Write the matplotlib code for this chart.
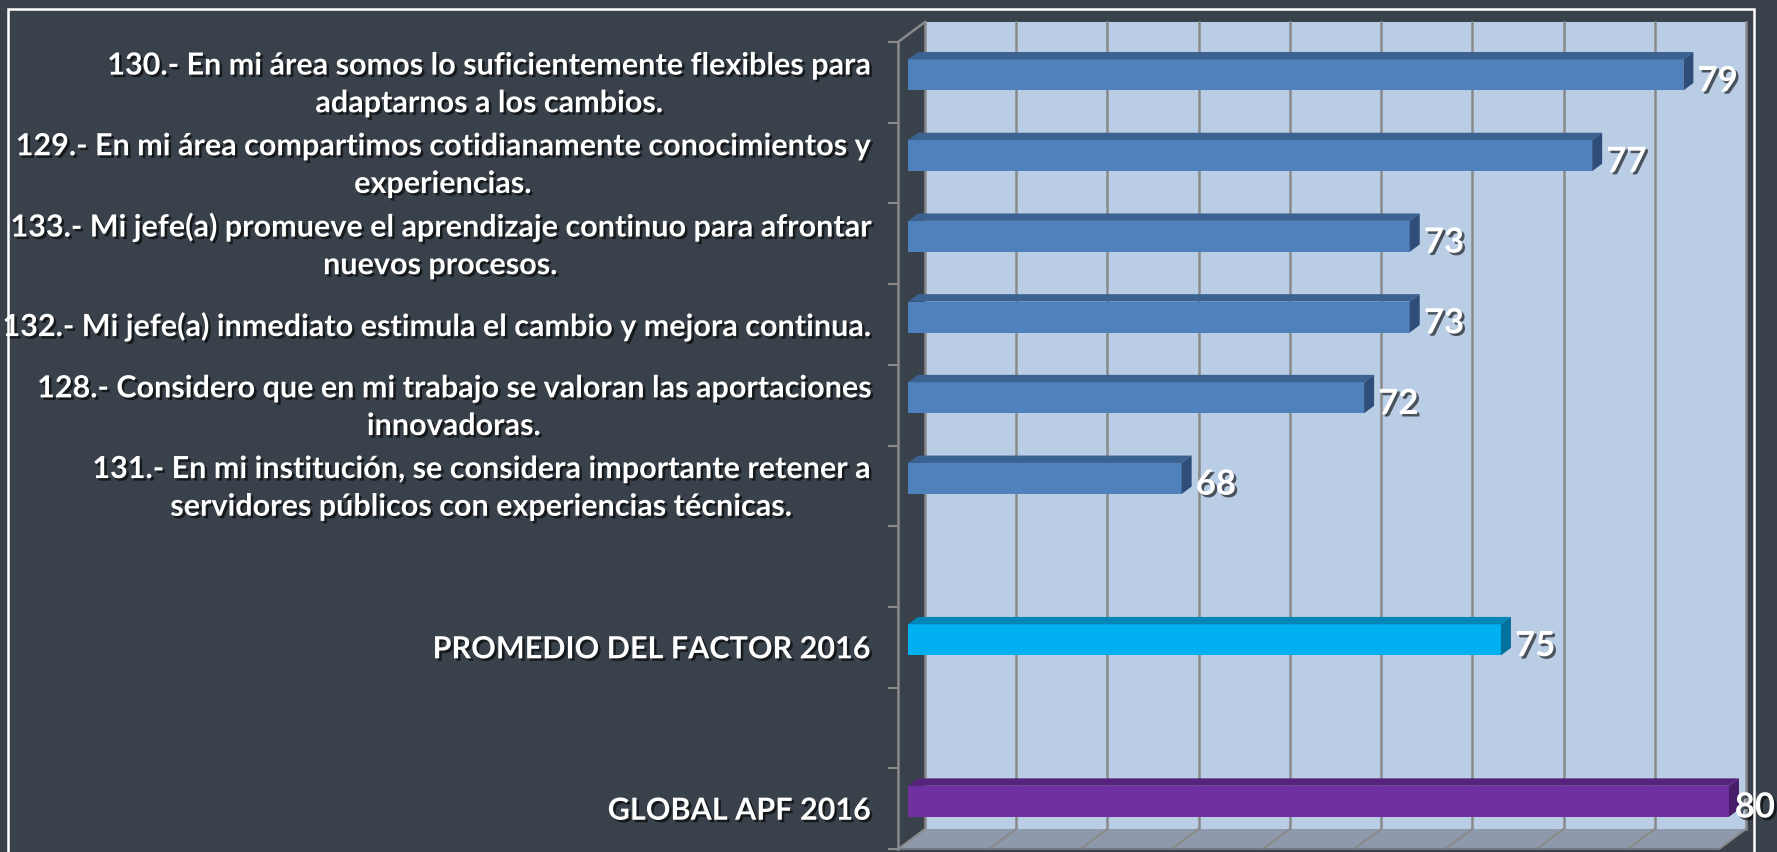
import matplotlib
matplotlib.use("Agg")
import matplotlib.pyplot as plt
from matplotlib.patches import Polygon, Rectangle
from matplotlib import patheffects as pe

# ---------------- data ----------------
categories = [
    "130.- En mi área somos lo suficientemente flexibles para\nadaptarnos a los cambios.",
    "129.- En mi área compartimos cotidianamente conocimientos y\nexperiencias.",
    "133.- Mi jefe(a) promueve el aprendizaje continuo para afrontar\nnuevos procesos.",
    "132.- Mi jefe(a) inmediato estimula el cambio y mejora continua.",
    "128.- Considero que en mi trabajo se valoran las aportaciones\ninnovadoras.",
    "131.- En mi institución, se considera importante retener a\nservidores públicos con experiencias técnicas.",
    "",
    "PROMEDIO DEL FACTOR 2016",
    "",
    "GLOBAL APF 2016",
]
values = [79, 77, 73, 73, 72, 68, None, 75, None, 80]
bar_kind = ["item", "item", "item", "item", "item", "item", None, "factor", None, "global"]
x_min, x_max, x_step = 62, 80, 2

# ---------------- style ----------------
BG = "#39414a"
WALL = "#b9cde5"
FLOOR = "#8e9aab"
GRID = "#8a8a8a"
palette = {
    "item":   ("#4f81bd", "#3c6291", "#2e4d78"),
    "factor": ("#00b0f0", "#0087b8", "#00719c"),
    "global": ("#7030a0", "#56237c", "#481d69"),
}
FONT = "Lato"
W, H = 1777, 853

fig = plt.figure(figsize=(W / 100, H / 100), dpi=100, facecolor=BG)
ax = fig.add_axes([898 / W, 3 / H, 821 / W, 807 / H])
n = len(categories)
ax.set_xlim(x_min, x_max)
ax.set_ylim(n, 0)
ax.set_facecolor("none")
for s in ax.spines.values():
    s.set_visible(False)

DX, DY = 0.592, 0.248      # depth vector (data units)
d0, d1 = 0.37, 0.74        # bar depth range
h = 0.384                  # bar thickness (slots)

# back wall
ax.add_patch(Polygon([(x_min + DX, -DY), (x_max + DX, -DY), (x_max + DX, n - DY), (x_min + DX, n - DY)],
                     closed=True, fc=WALL, ec="none", clip_on=False, zorder=0))
# floor
ax.add_patch(Polygon([(x_min, n), (x_max, n), (x_max + DX, n - DY), (x_min + DX, n - DY)],
                     closed=True, fc=FLOOR, ec="none", clip_on=False, zorder=1))
# gridlines on wall and floor
for v in range(x_min, x_max + 1, x_step):
    ax.plot([v + DX, v + DX], [-DY, n - DY], color=GRID, lw=1.8, clip_on=False, zorder=0.5)
    ax.plot([v, v + DX], [n, n - DY], color=GRID, lw=1.5, clip_on=False, zorder=1.5)
ax.plot([x_min, x_max], [n, n], color="#6f7885", lw=1.5, clip_on=False, zorder=1.5)

# left axis
ax.plot([x_min, x_min], [0, n], color=GRID, lw=1.8, clip_on=False, zorder=2)
ax.plot([x_min, x_min + DX], [0, -DY], color=GRID, lw=1.8, clip_on=False, zorder=2)
ax.set_yticks(range(n + 1))
ax.set_xticks([])
ax.tick_params(axis="y", length=7, width=1.5, color=GRID, labelleft=False)

shadow = [pe.withSimplePatchShadow(offset=(1.8, -1.8), shadow_rgbFace="black", alpha=0.6)]

value_texts = []
for i, (lab, v, kind) in enumerate(zip(categories, values, bar_kind)):
    c = i + 0.5
    if lab:
        ax.annotate(lab, xy=(x_min, c), xytext=(-20, -1.5), textcoords="offset points",
                    ha="right", va="center", multialignment="center",
                    fontsize=22, fontweight="bold", family=FONT, color="white",
                    linespacing=1.42, annotation_clip=False, path_effects=shadow, zorder=5)
    if v is None:
        continue
    front, top, side = palette[kind]
    y0f, y1f = c - h / 2 - d0 * DY, c + h / 2 - d0 * DY
    y0b, y1b = c - h / 2 - d1 * DY, c + h / 2 - d1 * DY
    ax.add_patch(Polygon([(x_min + d0 * DX, y0f), (v + d0 * DX, y0f), (v + d0 * DX, y1f), (x_min + d0 * DX, y1f)],
                         closed=True, fc=front, ec="none", clip_on=False, zorder=3))
    ax.add_patch(Polygon([(x_min + d0 * DX, y0f), (v + d0 * DX, y0f), (v + d1 * DX, y0b), (x_min + d1 * DX, y0b)],
                         closed=True, fc=top, ec="none", clip_on=False, zorder=3))
    ax.add_patch(Polygon([(v + d0 * DX, y0f), (v + d1 * DX, y0b), (v + d1 * DX, y1b), (v + d0 * DX, y1f)],
                         closed=True, fc=side, ec="none", clip_on=False, zorder=3))
    t = ax.annotate(f"{v}", xy=(v + d1 * DX, c - d0 * DY), xytext=(3, -4.5), textcoords="offset points",
                    ha="left", va="center", fontsize=25, fontweight="bold", family=FONT, color="white",
                    annotation_clip=False, path_effects=shadow, zorder=6)
    value_texts.append(t)

# keep value labels inside the picture (as the original does for the last label)
fig.canvas.draw()
renderer = fig.canvas.get_renderer()
for t in value_texts:
    bb = t.get_window_extent(renderer)
    overflow = bb.x1 - (W - 2)
    if overflow > 0:
        x, y = t.xyann
        t.xyann = (x - overflow * 72 / 100, y)

# white frame
fig.add_artist(Rectangle((8 / W, -0.05), (1754 - 8) / W, 1.05 - 10 / H,
                         transform=fig.transFigure, fill=False, ec="white", lw=1.8, zorder=10))

fig.savefig("out.png", dpi=100, facecolor=BG)
